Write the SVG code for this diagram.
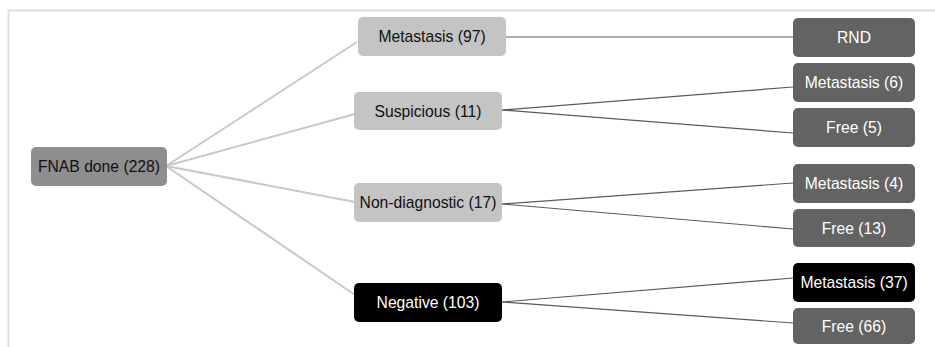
<svg xmlns="http://www.w3.org/2000/svg" width="935" height="347" viewBox="0 0 935 347">
<style>
text{font-family:"Liberation Sans",Arial,sans-serif;font-size:15.7px;text-anchor:middle}
.root rect{fill:#8e8e8e}
.mid rect{fill:#c4c4c4}
.leaf rect{fill:#636363}
.neg rect{fill:#000}
.dk{fill:#111}
.wt{fill:#fff}
.c1{stroke:#c8c8c8;stroke-width:2;fill:none}
.c2{stroke:#5a5a5a;stroke-width:1.2;fill:none}
.frame{stroke:#dedede;stroke-width:2;fill:none}
</style>
<rect width="935" height="347" fill="#fff"/>
<path class="frame" d="M8.5,347 V10.5 H935"/>
<g id="connectors">
<line class="c1" x1="166" y1="166" x2="357" y2="42"/>
<line class="c1" x1="166" y1="166" x2="355" y2="114"/>
<line class="c1" x1="166" y1="166" x2="355" y2="202"/>
<line class="c1" x1="166" y1="166" x2="355" y2="295"/>
<line class="c2" x1="506" y1="37" x2="793" y2="37"/>
<line class="c2" x1="502" y1="110" x2="793" y2="87"/>
<line class="c2" x1="502" y1="110" x2="793" y2="133"/>
<line class="c2" x1="502" y1="204" x2="793" y2="183"/>
<line class="c2" x1="502" y1="204" x2="793" y2="229"/>
<line class="c2" x1="502" y1="302" x2="793" y2="278"/>
<line class="c2" x1="502" y1="302" x2="793" y2="323"/>
</g>
<g id="fnab" class="root"><rect x="31" y="147" width="136" height="39" rx="5"/><text class="dk" x="99" y="172">FNAB done (228)</text></g>
<g id="metastasis97" class="mid"><rect x="358" y="17" width="148" height="39" rx="5"/><text class="dk" x="432" y="42">Metastasis (97)</text></g>
<g id="suspicious" class="mid"><rect x="354" y="92" width="148" height="38" rx="5"/><text class="dk" x="428" y="116.5">Suspicious (11)</text></g>
<g id="nondiag" class="mid"><rect x="354" y="183" width="148" height="39" rx="5"/><text class="dk" x="428" y="208">Non-diagnostic (17)</text></g>
<g id="negative" class="neg"><rect x="354" y="283" width="148" height="39" rx="5"/><text class="wt" x="428" y="308">Negative (103)</text></g>
<g id="rnd" class="leaf"><rect x="793" y="18" width="122" height="39" rx="5"/><text class="wt" x="854" y="43">RND</text></g>
<g id="met6" class="leaf"><rect x="793" y="63" width="122" height="39" rx="5"/><text class="wt" x="854" y="88">Metastasis (6)</text></g>
<g id="free5" class="leaf"><rect x="793" y="108" width="122" height="39" rx="5"/><text class="wt" x="854" y="133">Free (5)</text></g>
<g id="met4" class="leaf"><rect x="793" y="164" width="122" height="39" rx="5"/><text class="wt" x="854" y="189">Metastasis (4)</text></g>
<g id="free13" class="leaf"><rect x="793" y="209" width="122" height="38" rx="5"/><text class="wt" x="854" y="233.5">Free (13)</text></g>
<g id="met37" class="neg"><rect x="793" y="263" width="122" height="39" rx="5"/><text class="wt" x="854" y="288">Metastasis (37)</text></g>
<g id="free66" class="leaf"><rect x="793" y="308" width="122" height="36" rx="5"/><text class="wt" x="854" y="331.5">Free (66)</text></g>
</svg>
